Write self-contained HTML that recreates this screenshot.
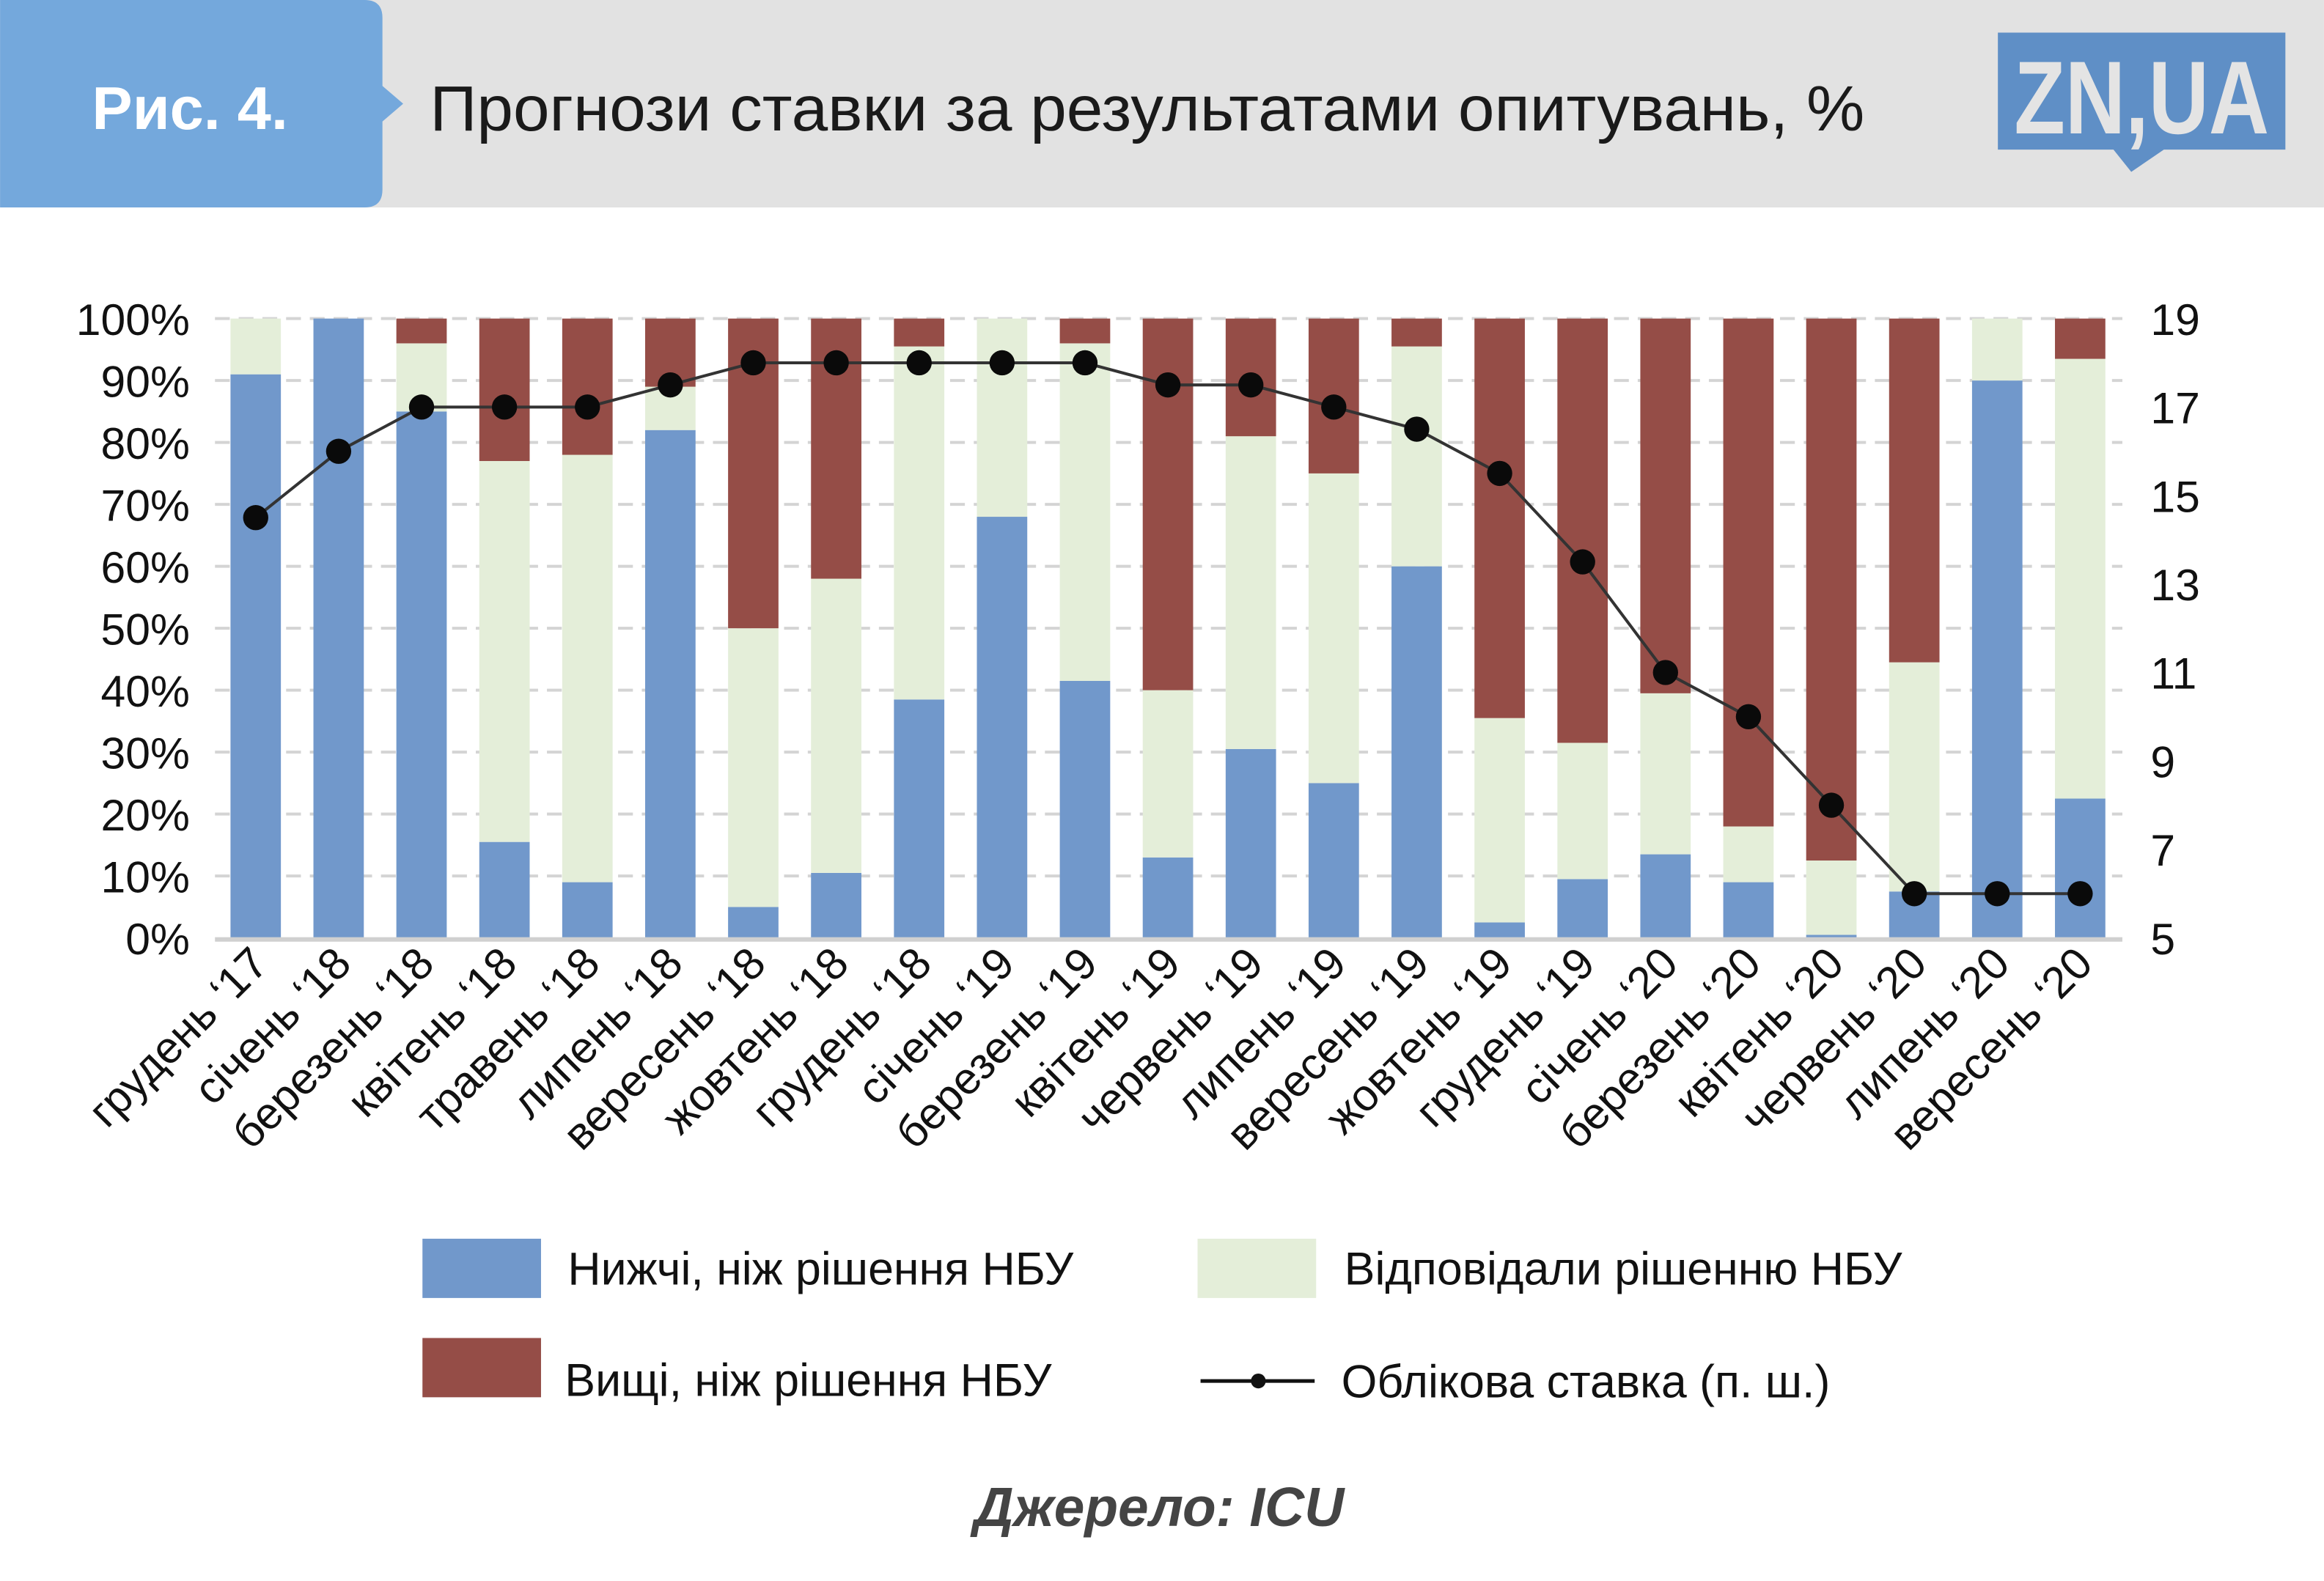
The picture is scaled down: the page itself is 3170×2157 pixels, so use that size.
<!DOCTYPE html>
<html><head><meta charset="utf-8"><style>
html,body{margin:0;padding:0;background:#fff;}
svg{display:block;font-family:"Liberation Sans",sans-serif;}
</style></head><body>
<svg id="chart" width="3170" height="2157" viewBox="0 0 1568 1067" xmlns="http://www.w3.org/2000/svg">
<rect x="0" y="0" width="1568" height="140" fill="#e2e2e2"/>
<path d="M0 0 H246 Q258 0 258 12 V58 L272 70 L258 82 V128 Q258 140 246 140 H0 Z" fill="#74a8dc"/>
<text x="62" y="87" font-size="41" font-weight="bold" fill="#fff">Рис. 4.</text>
<text x="290" y="88" font-size="43" fill="#1a1a1a" textLength="968" lengthAdjust="spacingAndGlyphs">Прогнози ставки за результатами опитувань, %</text>
<g>
<path d="M1348 22 H1542 V101 H1460 L1438 116 L1426 101 H1348 Z" fill="#5f8fc6"/>
<text x="1445" y="90" font-size="70" font-weight="bold" fill="#e4e4e4" text-anchor="middle" textLength="172" lengthAdjust="spacingAndGlyphs">ZN,UA</text>
</g>
<g id="grid"></g>
<g id="bars"></g>
<g id="line"></g>
<g id="axes"></g>
<g>
<rect x="285" y="836" width="80" height="40" fill="#7198cb"/>
<text x="383" y="867" font-size="31" fill="#111">Нижчі, ніж рішення НБУ</text>
<rect x="808" y="836" width="80" height="40" fill="#e4eed9"/>
<text x="907" y="867" font-size="31" fill="#111">Відповідали рішенню НБУ</text>
<rect x="285" y="903" width="80" height="40" fill="#954d47"/>
<text x="381" y="942" font-size="31" fill="#111">Вищі, ніж рішення НБУ</text>
<line x1="810" y1="932" x2="887" y2="932" stroke="#111" stroke-width="2.5"/>
<circle cx="849" cy="932" r="5" fill="#111"/>
<text x="905" y="943" font-size="31" fill="#111">Облікова ставка (п. ш.)</text>
</g>
<text x="782" y="1030" font-size="37" font-weight="bold" font-style="italic" fill="#444" text-anchor="middle">Джерело: ICU</text>
</svg>
<script>
const categories=["грудень ‘17","січень ‘18","березень ‘18","квітень ‘18","травень ‘18","липень ‘18","вересень ‘18","жовтень ‘18","грудень ‘18","січень ‘19","березень ‘19","квітень ‘19","червень ‘19","липень ‘19","вересень ‘19","жовтень ‘19","грудень ‘19","січень ‘20","березень ‘20","квітень ‘20","червень ‘20","липень ‘20","вересень ‘20"];
const lowerValues=[91,100,85,15.5,9,82,5,10.5,38.5,68,41.5,13,30.5,25,60,2.5,9.5,13.5,9,0.5,7.5,90,22.5];
const equalValues=[9,0,11,61.5,69,7,45,47.5,57,32,54.5,27,50.5,50,35.5,33,22,26,9,12,37,10,71];
const higherValues=[0,0,4,23,22,11,50,42,4.5,0,4,60,19,25,4.5,64.5,68.5,60.5,82,87.5,55.5,0,6.5];
const rateValues=[14.5,16,17,17,17,17.5,18,18,18,18,18,17.5,17.5,17,16.5,15.5,13.5,11,10,8,6,6,6];
const leftTicks=[0,10,20,30,40,50,60,70,80,90,100];
const rightTicks=[5,7,9,11,13,15,17,19];
const NS="http://www.w3.org/2000/svg";
const L=145,R=1432,T=215,B=633;
const pitch=(R-L)/categories.length;
const bw=34;
const xC=i=>L+pitch*(i+0.5)-0.5;
const yP=v=>B-(v/100)*(B-T);
const yR=v=>B-((v-5)/14)*(B-T);
function mk(tag,attrs,parent){const e=document.createElementNS(NS,tag);for(const k in attrs)e.setAttribute(k,attrs[k]);parent.appendChild(e);return e;}
const grid=document.getElementById('grid'),bars=document.getElementById('bars'),line=document.getElementById('line'),axes=document.getElementById('axes');
leftTicks.forEach((t,i)=>{
  if(t>0){const g=mk('line',{x1:L,x2:R,y1:yP(t),y2:yP(t),stroke:'#d4d4d4','stroke-width':2,'stroke-dasharray':'10 6'},grid);
  
  }
  const tx=mk('text',{x:128,y:yP(t)+11,'font-size':30,'text-anchor':'end',fill:'#111'},axes);tx.textContent=t+'%';
  
  
});
rightTicks.forEach(t=>{
  const tx=mk('text',{x:1451,y:yR(t)+11,'font-size':30,fill:'#111'},axes);tx.textContent=t;
  
  
});
const base=mk('line',{x1:L,x2:R,y1:B+1,y2:B+1,stroke:'#d0d0d0','stroke-width':3},axes);


categories.forEach((c,i)=>{
  const x=xC(i)-bw/2;
  const segs=[[lowerValues[i],'#7198cb','bar-lower'],[equalValues[i],'#e4eed9','bar-equal'],[higherValues[i],'#954d47','bar-higher']];
  let acc=0;
  segs.forEach(s=>{
    if(s[0]>0){const r=mk('rect',{x:x,y:yP(acc+s[0]),width:bw,height:yP(acc)-yP(acc+s[0]),fill:s[1]},bars);
    
    }
    acc+=s[0];
  });
  const px=xC(i)+10,py=652;
  const tx=mk('text',{x:px,y:py,'font-size':30,'text-anchor':'end',fill:'#111',transform:`rotate(-45 ${px} ${py})`},axes);tx.textContent=c;
  
  
});
const pts=rateValues.map((v,i)=>xC(i)+','+yR(v)).join(' ');
const pl=mk('polyline',{points:pts,fill:'none',stroke:'#333','stroke-width':2},line);


rateValues.forEach((v,i)=>{
  const c=mk('circle',{cx:xC(i),cy:yR(v),r:8.5,fill:'#0a0a0a'},line);
  
  
});
</script>
</body></html>
